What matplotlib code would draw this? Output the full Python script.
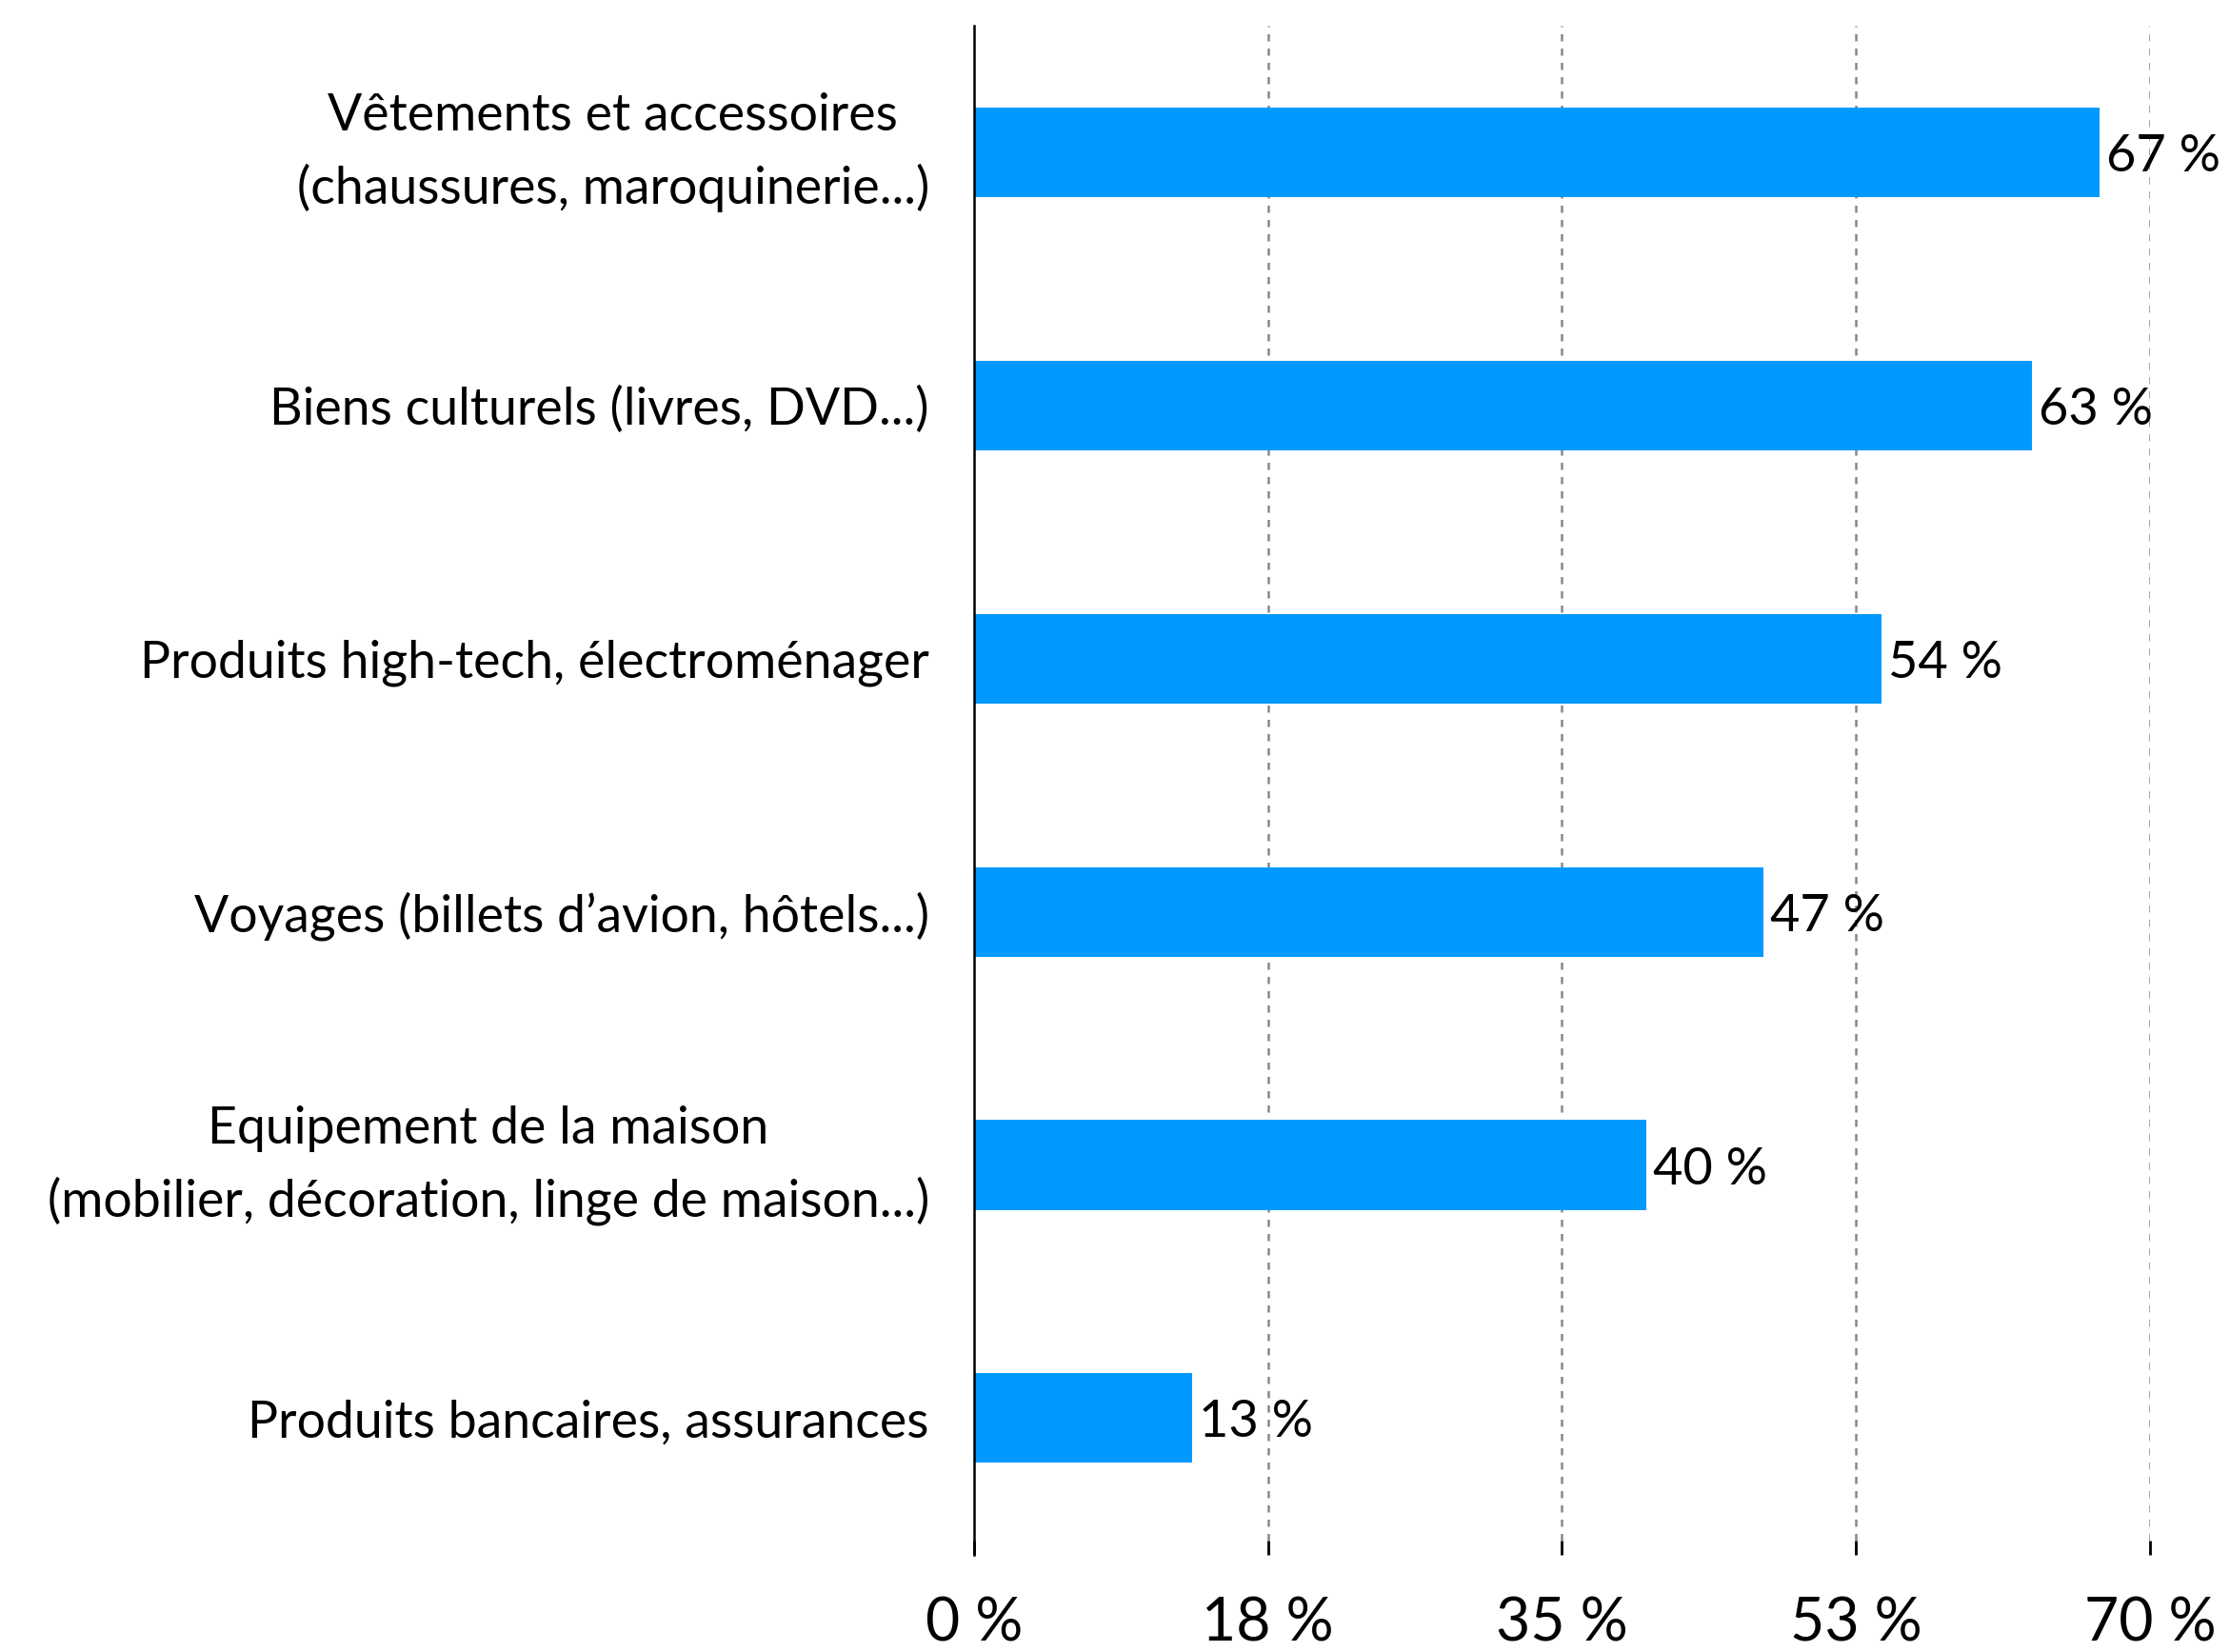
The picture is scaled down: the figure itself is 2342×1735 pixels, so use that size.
import numpy as np
import matplotlib.pyplot as plt

# Achats en ligne par catégorie (part des acheteurs, en %)
categories = [
    "Vêtements et accessoires\n(chaussures, maroquinerie...)",
    "Biens culturels (livres, DVD...)",
    "Produits high-tech, électroménager",
    "Voyages (billets d\u2019avion, hôtels...)",
    "Equipement de la maison\n(mobilier, décoration, linge de maison...)",
    "Produits bancaires, assurances",
]
values = [67, 63, 54, 47, 40, 13]

x_ticks = [0, 17.5, 35, 52.5, 70]
x_tick_labels = ["0 %", "18 %", "35 %", "53 %", "70 %"]

plt.rcParams['font.family'] = ['Lato', 'DejaVu Sans']

fig = plt.figure(figsize=(11.71, 8.675), dpi=200)
ax = fig.add_axes([0.4368, 0.0588, 0.5273, 0.9256])

y = np.arange(len(categories))
ax.barh(y, values, height=0.354, color='#0099FF', zorder=3)

for yi, v in zip(y, values):
    ax.text(v + 0.4, yi, f"{v} %", va='center_baseline', ha='left',
            fontsize=19.5, zorder=4)

ax.set_xlim(0, 70)
ax.set_ylim(5.54, -0.5)

ax.set_yticks(y)
ax.set_yticklabels(categories, fontsize=19.3, multialignment='center',
                   linespacing=1.6)
for lbl in ax.get_yticklabels():
    if "\n" in lbl.get_text():
        lbl.set_verticalalignment('center')
ax.tick_params(axis='y', length=0, pad=17)

ax.set_xticks(x_ticks)
ax.set_xticklabels(x_tick_labels, fontsize=22.5)
ax.tick_params(axis='x', direction='in', length=5.5, width=1, color='black', pad=15.5)

# dashed vertical guides, no guide on the zero line
for xt in x_ticks[1:]:
    ax.axvline(xt, color='#888888', linestyle=(0, (3, 3)), linewidth=0.9, zorder=1)

for side in ['top', 'right', 'bottom']:
    ax.spines[side].set_visible(False)
ax.spines['left'].set_linewidth(0.9)
ax.spines['left'].set_color('black')
ax.spines['left'].set_zorder(5)

fig.savefig('out.png', dpi=200)
